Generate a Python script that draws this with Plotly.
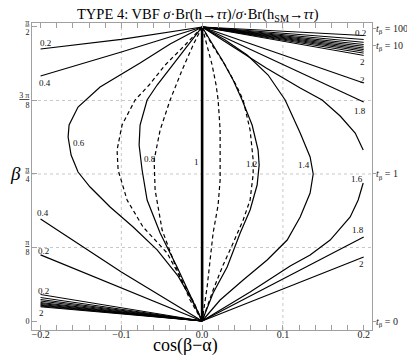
import numpy as np
import plotly.graph_objects as go

PI = np.pi

# ---- contour lines: x = cos(beta-alpha), y = beta ----
# fan of lines leaving the top point, right side (values 0.2 .. 2)
top_right_vals = [0.2, 0.4, 0.6, 0.8, 1.0, 1.2, 1.4, 1.6, 1.8, 2.0]
top_right_end = [1.5251, 1.5038, 1.4888, 1.4770, 1.4674, 1.4583, 1.4498, 1.4412, 1.4311, 1.4188]
# fan of lines leaving the origin, left side (values 0.2 .. 2)
bot_left_end = [0.1416, 0.1255, 0.1149, 0.1068, 0.0988, 0.0935, 0.0881, 0.0839, 0.0801, 0.0759]

c02_top_x = [0, -0.1, -0.2]
c02_top_y = [PI / 2, 1.505, 1.453]
c04_top_x = [0, -0.1, -0.2]
c04_top_y = [PI / 2, 1.437, 1.309]
c02_bot_x = [0, -0.1, -0.2]
c02_bot_y = [0, 0.176, 0.353]
c04_bot_x = [0, -0.1, -0.2]
c04_bot_y = [0, 0.262, 0.545]

c06_x = [0, -0.0396, -0.0768, -0.1263, -0.1536, -0.1647, -0.1659, -0.1622, -0.1536, -0.1387,
         -0.1139, -0.0854, -0.0557, -0.0297, -0.0124, 0]
c06_y = [PI / 2, 1.4797, 1.3782, 1.2500, 1.1432, 1.0470, 0.9829, 0.8868, 0.7960, 0.7158,
         0.6090, 0.5021, 0.3800, 0.2400, 0.1100, 0]

c08_x = [0, -0.0173, -0.0372, -0.0557, -0.0681, -0.0768, -0.0780, -0.0743, -0.0681, -0.0520, -0.0310, -0.0124, 0]
c08_y = [PI / 2, 1.4744, 1.3675, 1.2607, 1.1806, 1.0470, 0.9402, 0.8066, 0.6464, 0.4701, 0.2885, 0.1122, 0]

c10_x = [0, 0]
c10_y = [0, PI / 2]

c12_x = [0, 0.0099, 0.0248, 0.0384, 0.0495, 0.0619, 0.0693, 0.0706, 0.0681, 0.0594, 0.0471, 0.0310, 0.0136, 0]
c12_y = [PI / 2, 1.5011, 1.3942, 1.2874, 1.1806, 1.0470, 0.9135, 0.8333, 0.7265, 0.5929, 0.4701, 0.2885, 0.1496, 0]

c14_x = [0, 0.0285, 0.0557, 0.0817, 0.1028, 0.1214, 0.1337, 0.1375, 0.1337, 0.1214, 0.1053, 0.0805, 0.0508, 0.0223, 0]
c14_y = [PI / 2, 1.5011, 1.4209, 1.3141, 1.1806, 1.0043, 0.8761, 0.7853, 0.6838, 0.5556, 0.4327, 0.3259, 0.2190, 0.1122, 0]

c16_top_x = [0, 0.0433, 0.0793, 0.1214, 0.1486, 0.1709, 0.1895, 0.1994]
c16_top_y = [PI / 2, 1.4530, 1.3515, 1.2447, 1.1806, 1.0951, 1.0043, 0.9135]
c16_bot_x = [0.1994, 0.1932, 0.1833, 0.1585, 0.1337, 0.1090, 0.0594, 0]
c16_bot_y = [0.7372, 0.6464, 0.5556, 0.4327, 0.3526, 0.2938, 0.1549, 0]

c18_top_x = [0, 0.1, 0.2]
c18_top_y = [PI / 2, 1.370, 1.1699]
c20_top_x = [0, 0.1, 0.2]
c20_top_y = [PI / 2, 1.421, 1.2714]
c18_bot_x = [0, 0.1, 0.2]
c18_bot_y = [0, 0.2244, 0.4487]
c20_bot_x = [0, 0.1, 0.2]
c20_bot_y = [0, 0.1710, 0.3419]

# dashed curves
dl_out_x = [0, -0.0211, -0.0458, -0.0656, -0.0830, -0.0991, -0.1053, -0.1040, -0.0929, -0.0731, -0.0433, -0.0248, -0.0087, 0]
dl_out_y = [PI / 2, 1.4744, 1.3675, 1.2607, 1.1806, 1.0470, 0.9135, 0.8066, 0.6464, 0.5021, 0.3632, 0.2190, 0.0855, 0]
dl_in_x = [0, -0.0111, -0.0248, -0.0396, -0.0520, -0.0594, -0.0582, -0.0495, -0.0334, -0.0149, 0]
dl_in_y = [PI / 2, 1.4744, 1.3408, 1.1806, 1.0203, 0.8600, 0.6998, 0.4861, 0.2991, 0.1122, 0]
dr_in_x = [0, 0.0062, 0.0124, 0.0173, 0.0198, 0.0223, 0.0223, 0.0223, 0.0198, 0.0136, 0.0062, 0]
dr_in_y = [PI / 2, 1.4744, 1.3675, 1.2607, 1.1806, 1.0203, 0.8600, 0.7532, 0.6197, 0.4701, 0.1816, 0]
dr_out_x = [0, 0.0124, 0.0285, 0.0421, 0.0508, 0.0594, 0.0632, 0.0632, 0.0594, 0.0508, 0.0384, 0.0260, 0.0136, 0]
dr_out_y = [PI / 2, 1.4744, 1.3675, 1.2607, 1.1806, 1.0203, 0.8600, 0.7853, 0.6464, 0.5395, 0.4167, 0.2991, 0.1656, 0]

# contour labels (text, x, y)
lbl_text = ["0.2", "0.4", "0.6", "0.8", "1", "1.2", "1.4", "1.6", "1.8", "2", "2", "0.2",
            "1.8", "2", "0.4", "0.2", "0.2", "2"]
lbl_x = [-0.1944, -0.1944, -0.1523, -0.0644, -0.0074, 0.0607, 0.1263, 0.1920, 0.1957, 0.1981, 0.1981, 0.1957,
         0.1932, 0.1969, -0.1969, -0.1969, -0.1969, -0.1994]
lbl_y = [1.485, 1.271, 0.951, 0.865, 0.849, 0.839, 0.833, 0.759, 1.122, 1.287, 1.384, 1.538,
         0.486, 0.304, 0.577, 0.374, 0.160, 0.043]

x_ticks = [-0.2, -0.1, 0.0, 0.1, 0.2]
y_ticks = [0, PI / 8, PI / 4, 3 * PI / 8, PI / 2]
y_ticktext = ["0", "<u>π</u><br>8", "<u>π</u><br>4", "<u>3 π</u><br>8", "<u>π</u><br>2"]
tb_vals = [0, PI / 4, np.arctan(10), np.arctan(100)]
tb_text = ["<i>t</i><sub>β</sub> = 0", "<i>t</i><sub>β</sub> = 1",
           "<i>t</i><sub>β</sub> = 10", "<i>t</i><sub>β</sub> = 100"]

FONT = "Liberation Serif"
fig = go.Figure()


def add_line(x, y, width=1.2, dash="solid"):
    fig.add_trace(go.Scatter(x=x, y=y, mode="lines", line=dict(color="black", width=width, dash=dash),
                             hoverinfo="skip", showlegend=False))


for e in top_right_end:
    add_line([0, 0.2], [PI / 2, e], width=1.0)
for e in bot_left_end:
    add_line([0, -0.2], [0, e], width=1.0)

for x, y in [(c02_top_x, c02_top_y), (c04_top_x, c04_top_y), (c02_bot_x, c02_bot_y), (c04_bot_x, c04_bot_y),
             (c06_x, c06_y), (c08_x, c08_y), (c12_x, c12_y), (c14_x, c14_y),
             (c16_top_x, c16_top_y), (c16_bot_x, c16_bot_y), (c18_top_x, c18_top_y), (c20_top_x, c20_top_y),
             (c18_bot_x, c18_bot_y), (c20_bot_x, c20_bot_y)]:
    add_line(x, y)

for x, y in [(dl_out_x, dl_out_y), (dl_in_x, dl_in_y), (dr_in_x, dr_in_y), (dr_out_x, dr_out_y)]:
    add_line(x, y, dash="4px,3px")

add_line(c10_x, c10_y, width=2.6)

# dummy trace so the right-hand tan(beta) axis gets drawn
fig.add_trace(go.Scatter(x=[None], y=[None], yaxis="y2", showlegend=False))

for t, x, y in zip(lbl_text, lbl_x, lbl_y):
    fig.add_annotation(x=x, y=y, text=t, showarrow=False, font=dict(family=FONT, size=9, color="#111"))

grid = dict(color="#c8c8c8", width=1, dash="dot")
for gx in [-0.1, 0.1]:
    fig.add_shape(type="line", x0=gx, x1=gx, y0=0, y1=1, xref="x", yref="paper", line=grid, layer="below")
for gy in [PI / 8, PI / 4, 3 * PI / 8]:
    fig.add_shape(type="line", x0=0, x1=1, y0=gy, y1=gy, xref="paper", yref="y", line=grid, layer="below")

fig.add_annotation(x=0.488, y=1.025, xref="paper", yref="paper", xanchor="center", yanchor="middle",
                   showarrow=False,
                   text="TYPE 4: VBF <i>σ</i>·Br(h→<i>ττ</i>)/<i>σ</i>·Br(h<sub>SM</sub>→<i>ττ</i>)",
                   font=dict(family=FONT, size=14.5, color="black"))
fig.add_annotation(x=0.45, y=-0.052, xref="paper", yref="paper", xanchor="center", yanchor="middle",
                   showarrow=False, text="cos(β−α)", font=dict(family=FONT, size=18, color="black"))
fig.add_annotation(x=-0.05, y=0.51, xref="paper", yref="paper", xanchor="center", yanchor="middle",
                   showarrow=False, text="<i>β</i>", font=dict(family=FONT, size=19, color="black"))

axis_common = dict(showgrid=False, zeroline=False, showline=True, linecolor="#a0a0a0", linewidth=1,
                   automargin=False, tickfont=dict(family=FONT, size=10, color="#222"), tickcolor="#a0a0a0")
# the page body keeps its default 8px margin, so the figure is 8px smaller than the window
fig.update_layout(
    template="none",
    width=407, height=351,
    margin=dict(l=24, r=43, t=15, b=29),
    plot_bgcolor="white", paper_bgcolor="white",
    xaxis=dict(range=[-0.2106, 0.2103], tickvals=x_ticks, ticktext=["−0.2", "−0.1", "0.0", "0.1", "0.2"],
               ticks="inside", ticklen=5, mirror="allticks", ticklabelstandoff=-5,
               minor=dict(ticks="inside", ticklen=2.5, dtick=0.02, tick0=0, tickcolor="#a0a0a0"),
               **axis_common),
    yaxis=dict(range=[-0.048, 1.592], tickvals=y_ticks, ticktext=y_ticktext, ticks="inside", ticklen=5,
               mirror=True, **{**axis_common, "tickfont": dict(family=FONT, size=8, color="#222")}),
    yaxis2=dict(range=[-0.048, 1.592], overlaying="y", side="right", tickvals=tb_vals, ticktext=tb_text,
                ticks="outside", ticklen=3, ticklabelstandoff=-2, showgrid=False, zeroline=False,
                showline=False, automargin=False,
                tickfont=dict(family=FONT, size=10, color="#222"), tickcolor="#a0a0a0"),
)

fig.write_html("out.html")
